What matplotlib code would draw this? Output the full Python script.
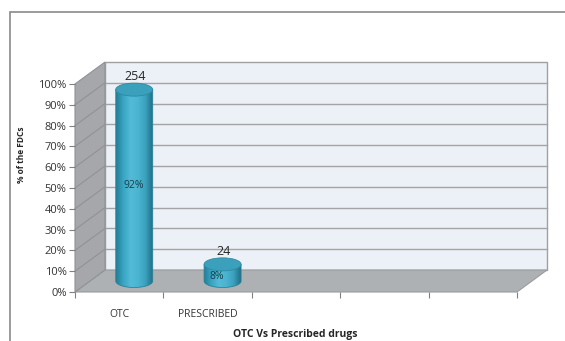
import matplotlib
matplotlib.use("Agg")
import matplotlib.pyplot as plt
import numpy as np
from matplotlib.patches import Polygon, PathPatch, Ellipse, Rectangle
from matplotlib.path import Path
from matplotlib.colors import LinearSegmentedColormap

plt.rcParams["font.family"] = ["Open Sans", "DejaVu Sans"]

categories = ["OTC", "PRESCRIBED", "", "", ""]
percent = [92, 8]
counts = [254, 24]
yticks = list(range(0, 101, 10))

W, H = 565, 341
fig = plt.figure(figsize=(W / 100, H / 100), dpi=100)
ax = fig.add_axes([75 / W, 49 / H, 442 / W, 208 / H])
n = len(categories)
ax.set_xlim(0, n)
ax.set_ylim(0, 100)

# depth of the 3d box, in pixels -> data units
px_x = ax.bbox.width / n
px_y = ax.bbox.height / 100
ddx = 30 / px_x
ddy = 22 / px_y


def p(x, y, d):
    return (x + d * ddx, y + d * ddy)


# back wall
back = Polygon([p(0, 0, 1), p(n, 0, 1), p(n, 100, 1), p(0, 100, 1)], closed=True,
               facecolor="#ebf1f6", edgecolor="#a0a0a0", lw=1, clip_on=False, zorder=1)
ax.add_patch(back)
for t in yticks[1:-1]:
    a, b = p(0, t, 1), p(n, t, 1)
    ax.plot([a[0], b[0]], [a[1], b[1]], color="#a4a4a4", lw=1, clip_on=False, zorder=1.1)

# floor
floor = Polygon([p(0, 0, 0), p(n, 0, 0), p(n, 0, 1), p(0, 0, 1)], closed=True,
                facecolor="#aeb1b3", edgecolor="#9a9c9e", lw=0.8, clip_on=False, zorder=1.2)
ax.add_patch(floor)

# left wall
wall = Polygon([p(0, 0, 0), p(0, 100, 0), p(0, 100, 1), p(0, 0, 1)], closed=True,
               facecolor="#a5a7aa", edgecolor="#909295", lw=0.8, clip_on=False, zorder=1.3)
ax.add_patch(wall)
for t in yticks[1:-1]:
    a, b = p(0, t, 0), p(0, t, 1)
    ax.plot([a[0], b[0]], [a[1], b[1]], color="#909295", lw=0.8, clip_on=False, zorder=1.4)

# cylinders
cmap = LinearSegmentedColormap.from_list(
    "cyl", ["#247f98", "#3aa6c3", "#52bcd8", "#4ab4d1", "#3aa2be", "#226f86"])
rx = 18.5 / px_x
ry = 6.5 / px_y
th = np.linspace(np.pi, 2 * np.pi, 60)
for i, v in enumerate(percent):
    xc, yb = p(i + 0.5, 0, 0.5)
    yt = yb + v
    pts = [(xc - rx, yt), (xc - rx, yb)]
    pts += [(xc + rx * np.cos(a), yb + ry * np.sin(a)) for a in th]
    pts += [(xc + rx, yt), (xc - rx, yt)]
    body = PathPatch(Path(pts), facecolor="none", edgecolor="#2a8199", lw=0.6,
                     clip_on=False, zorder=3)
    ax.add_patch(body)
    im = ax.imshow(np.linspace(0, 1, 100)[None, :], extent=(xc - rx, xc + rx, yb - ry, yt),
                   aspect="auto", cmap=cmap, zorder=2.9, interpolation="bilinear")
    im.set_clip_path(body)
    im.set_clip_box(fig.bbox)
    top = Ellipse((xc, yt), 2 * rx, 2 * ry, facecolor="#3ba0bb", edgecolor="#2d8aa3",
                  lw=0.6, clip_on=False, zorder=3.1)
    ax.add_patch(top)
    ax.annotate(str(counts[i]), (xc, yt), xytext=(1, 9.5), textcoords="offset points",
                ha="center", va="center", fontsize=9, color="#262626",
                annotation_clip=False, zorder=4)
    if v > 20:
        ax.annotate(f"{v}%", (xc, yb + v / 2), xytext=(0, 0), textcoords="offset points",
                    ha="center", va="center", fontsize=7.5, color="#173e4b",
                    annotation_clip=False, zorder=4)
    else:
        ax.annotate(f"{v}%", (xc, yb), xytext=(-4, 3), textcoords="offset points",
                    ha="center", va="center", fontsize=7.5, color="#173e4b",
                    annotation_clip=False, zorder=4)

ax.set_xlim(0, n)
ax.set_ylim(0, 100)

# axes
for s in ["top", "right", "left", "bottom"]:
    ax.spines[s].set_visible(False)
ax.set_yticks(yticks)
ax.set_yticklabels([f"{t}%" for t in yticks])
ax.tick_params(axis="y", length=4, width=0.8, color="#808080", labelsize=8,
               labelcolor="#333333", pad=2)
ax.set_xticks(np.arange(n + 1), minor=True)
ax.set_xticks(np.arange(n) + 0.5)
ax.set_xticklabels(categories)
ax.tick_params(axis="x", which="minor", length=4, width=0.8, color="#808080")
ax.tick_params(axis="x", which="major", length=0, labelsize=7.5, labelcolor="#333333", pad=12)
ax.set_facecolor("none")

fig.text(21 / W, 1 - 155 / H, "% of the FDCs", rotation=90, ha="center", va="center",
         fontsize=6, fontweight="bold", color="#262626")
fig.text(295 / W, 1 - 335 / H, "OTC Vs Prescribed drugs", ha="center", va="center",
         fontsize=7.5, fontweight="bold", color="#262626")

fig.add_artist(Rectangle((10 / W, -0.1), 1.2, 1.1 - 12 / H, transform=fig.transFigure,
                         facecolor="none", edgecolor="#8a8a8a", lw=1.2))

fig.savefig("out.png", dpi=100)
